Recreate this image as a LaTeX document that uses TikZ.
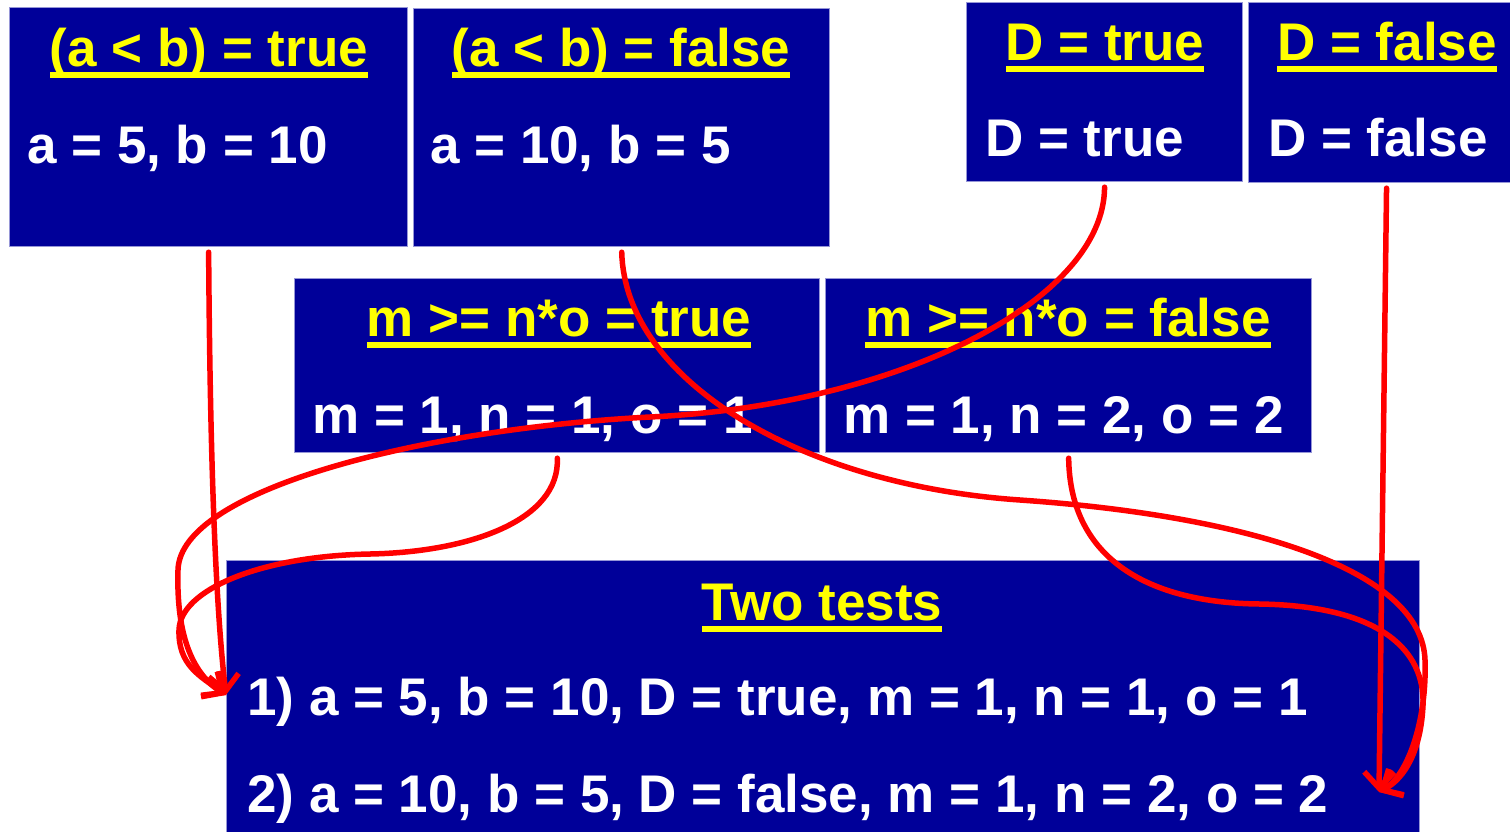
\documentclass[tikz,border=0pt]{standalone}
\usepackage{fontspec}
\setmainfont{Liberation Sans}
\usetikzlibrary{arrows.meta}

\definecolor{boxblue}{RGB}{0,0,153}
\definecolor{boxedge}{RGB}{150,150,215}
\definecolor{headyellow}{RGB}{255,255,0}
\definecolor{penred}{RGB}{255,0,0}

% heading with a thick underline
\newcommand{\hdline}[1]{\setbox0\hbox{#1}\rlap{\vrule height -6pt depth 11.5pt width \wd0}\box0}

\begin{document}
\begin{tikzpicture}[x=1pt,y=-1pt,
	every node/.style={font=\fontsize{53}{60}\selectfont\bfseries},
	box/.style={draw=boxedge, line width=1.2pt, fill=boxblue, inner sep=0pt, anchor=north west},
	head/.style={text=headyellow, inner sep=0pt, anchor=base},
	body/.style={text=white, inner sep=0pt, anchor=base west},
	conn/.style={penred, line width=5.5pt, line cap=round, line join=round,
		shorten <=5pt, -{Straight Barb[length=16pt,width=30pt]}}]
		\useasboundingbox (0,0) rectangle (1510,831);

		\node[box, minimum width=398pt, minimum height=239pt] (LT) at (9,7) {};
		\node[box, minimum width=416pt, minimum height=238pt] (LF) at (413,8) {};
		\node[box, minimum width=276pt, minimum height=179pt] (DT) at (966,2) {};
		\node[box, minimum width=276pt, minimum height=180pt] (DF) at (1248,2) {};
		\node[box, minimum width=525pt, minimum height=174pt] (MT) at (294,278) {};
		\node[box, minimum width=486pt, minimum height=174pt] (MF) at (825,278) {};
		\node[box, minimum width=1193pt, minimum height=290pt] (T) at (226,560) {};

		\node[head] (LT-h) at (209,66) {\hdline{(a < b) = true}};
		\node[body] (LT-b) at (27,163) {a = 5, b = 10};
		\node[head] (LF-h) at (621,66) {\hdline{(a < b) = false}};
		\node[body] (LF-b) at (430,163) {a = 10, b = 5};
		\node[head] (DT-h) at (1105,60) {\hdline{D = true}};
		\node[body] (DT-b) at (985,156) {D = true};
		\node[head] (DF-h) at (1387,60) {\hdline{D = false}};
		\node[body] (DF-b) at (1268,156) {D = false};
		\node[head] (MT-h) at (559,336) {\hdline{m >= n*o = true}};
		\node[body] (MT-b) at (312,433) {m = 1, n = 1, o = 1};
		\node[head] (MF-h) at (1068,336) {\hdline{m >= n*o = false}};
		\node[body] (MF-b) at (843,433) {m = 1, n = 2, o = 2};
		\node[head] (T-h) at (822,620) {\hdline{Two tests}};
		\node[body] (T-1) at (247,715) {1) a = 5, b = 10, D = true, m = 1, n = 1, o = 1};
		\node[body] (T-2) at (247,812) {2) a = 10, b = 5, D = false, m = 1, n = 2, o = 2};

		\coordinate (tipL) at (226,695);
		\coordinate (tipR) at (1379,792);

		% pen strokes into test 1
		\draw[conn] (LT.south) .. controls (210,450) and (215,600) .. (tipL);
		\draw[conn] (MT.south) .. controls (560,520) and (470,552) .. (370,554)
			.. controls (260,556) and (180,590) .. (179,630)
			.. controls (178,665) and (200,676) .. (tipL);
		\draw[conn] (DT.south) .. controls (1104,300) and (900,405) .. (650,417)
			.. controls (420,429) and (180,490) .. (178,570)
			.. controls (176,640) and (195,675) .. (tipL);

		% pen strokes into test 2
		\draw[conn] (LF.south) .. controls (625,380) and (800,485) .. (1020,500)
			.. controls (1250,516) and (1422,570) .. (1425,660)
			.. controls (1427,720) and (1408,775) .. (tipR);
		\draw[conn] (MF.south) .. controls (1070,560) and (1150,603) .. (1260,604)
			.. controls (1380,606) and (1425,650) .. (1423,705)
			.. controls (1421,750) and (1405,778) .. (tipR);
		\draw[conn] (DF.south) -- (tipR);

		\end{tikzpicture}
\end{document}
